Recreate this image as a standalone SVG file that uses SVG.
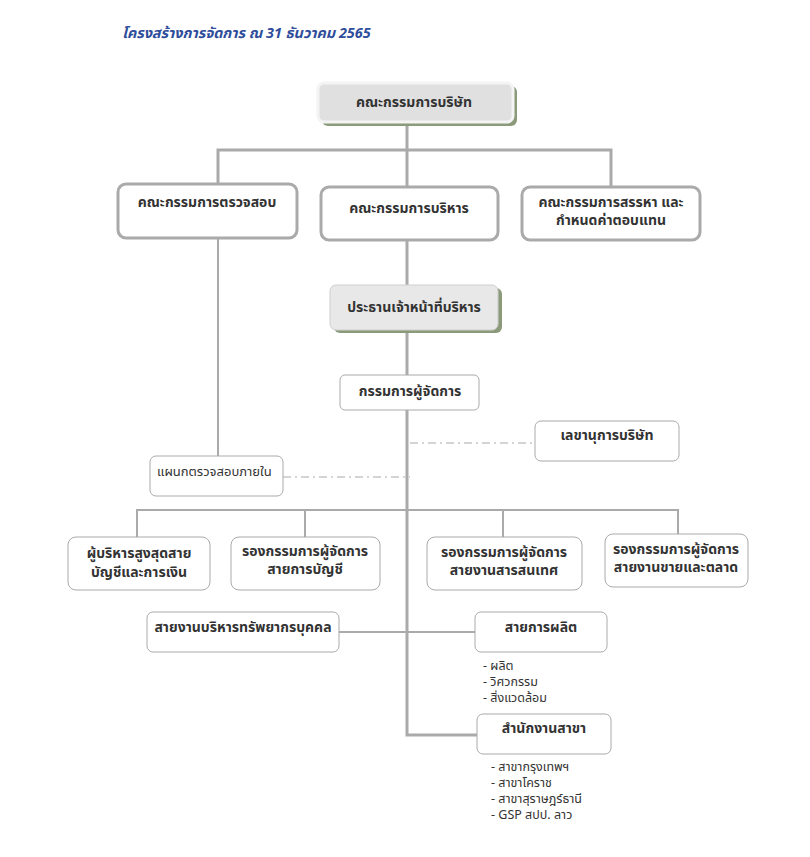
<svg xmlns="http://www.w3.org/2000/svg" width="810" height="857" viewBox="0 0 810 857">
<style>
text{font-family:"Noto Sans","Noto Sans Thai","DejaVu Sans",sans-serif;fill:#333;}
.b{font-weight:bold;font-size:14px;text-anchor:middle;}
.n{font-size:13px;}
.s{font-size:12.5px;}
.thick{fill:#fff;stroke:#aaa;stroke-width:3;}
.thin{fill:#fff;stroke:#aaa;stroke-width:1;}
.gray{fill:#e0e0e0;stroke:#f4f4f4;stroke-width:3;}
.shadow{fill:#8a9a7a;}
.ln{stroke:#aaa;stroke-width:3;fill:none;}
.ln2{stroke:#aaa;stroke-width:2;fill:none;}
.dd{stroke:#aaa;stroke-width:1.2;fill:none;stroke-dasharray:8 4 2 4;}
</style>
<rect width="810" height="857" fill="#fff"/>
<text x="122" y="38" style="font-size:14.4px;font-weight:bold;font-style:italic;fill:#2e4d9b;">โครงสร้างการจัดการ ณ 31 ธันวาคม 2565</text>
<g id="connectors">
<path class="ln" d="M407 122V150M218 185V150H611V186M407 150V186"/>
<path class="ln" d="M407 240V286M407 331V375M407 410V735H477"/>
<path class="ln2" d="M218 238V456"/>
<path class="dd" d="M283 477H410M410 443H535"/>
<path class="ln2" d="M137 537V510H678V534M305 510V537M503 510V537"/>
<path class="ln2" d="M339 632H475"/>
</g>
<g id="board">
<rect class="shadow" x="322" y="86" width="195" height="40" rx="6"/>
<rect class="gray" x="318" y="83" width="195" height="39" rx="6"/>
<text class="b" x="414" y="107">คณะกรรมการบริษัท</text>
</g>
<g id="audit-committee">
<rect class="thick" x="118" y="184" width="179" height="54" rx="8"/>
<text class="b" x="207" y="207">คณะกรรมการตรวจสอบ</text>
</g>
<g id="exec-committee">
<rect class="thick" x="321" y="187" width="177" height="53" rx="8"/>
<text class="b" x="409" y="213">คณะกรรมการบริหาร</text>
</g>
<g id="nomination-committee">
<rect class="thick" x="522" y="187" width="178" height="53" rx="8"/>
<text class="b" x="611" y="207">คณะกรรมการสรรหา และ</text>
<text class="b" x="611" y="225">กำหนดค่าตอบแทน</text>
</g>
<g id="ceo">
<rect class="shadow" x="334" y="288" width="168" height="45" rx="6"/>
<rect class="gray" x="330" y="285" width="168" height="45" rx="6" style="fill:#e8e8e8;stroke:#cfcfcf;stroke-width:1;"/>
<text class="b" x="414" y="312">ประธานเจ้าหน้าที่บริหาร</text>
</g>
<g id="md">
<rect class="thin" x="340" y="375" width="139" height="35" rx="5"/>
<text class="b" x="410" y="396">กรรมการผู้จัดการ</text>
</g>
<g id="secretary">
<rect class="thin" x="535" y="421" width="144" height="40" rx="6"/>
<text class="b" x="607" y="440">เลขานุการบริษัท</text>
</g>
<g id="internal-audit">
<rect class="thin" x="150" y="456" width="133" height="40" rx="6"/>
<text class="n" x="157" y="476">แผนกตรวจสอบภายใน</text>
</g>
<g id="cfo">
<rect class="thin" x="68" y="537" width="142" height="53" rx="8"/>
<text class="b" x="139" y="558">ผู้บริหารสูงสุดสาย</text>
<text class="b" x="139" y="577">บัญชีและการเงิน</text>
</g>
<g id="vp-accounting">
<rect class="thin" x="231" y="537" width="149" height="53" rx="8"/>
<text class="b" x="305" y="556">รองกรรมการผู้จัดการ</text>
<text class="b" x="305" y="574">สายการบัญชี</text>
</g>
<g id="vp-it">
<rect class="thin" x="427" y="537" width="155" height="53" rx="8"/>
<text class="b" x="504" y="557">รองกรรมการผู้จัดการ</text>
<text class="b" x="504" y="575">สายงานสารสนเทศ</text>
</g>
<g id="vp-sales">
<rect class="thin" x="605" y="534" width="143" height="53" rx="8"/>
<text class="b" x="676" y="554">รองกรรมการผู้จัดการ</text>
<text class="b" x="676" y="572">สายงานขายและตลาด</text>
</g>
<g id="hr">
<rect class="thin" x="147" y="612" width="192" height="40" rx="6"/>
<text class="b" x="243" y="632">สายงานบริหารทรัพยากรบุคคล</text>
</g>
<g id="production">
<rect class="thin" x="475" y="612" width="132" height="40" rx="6"/>
<text class="b" x="541" y="632">สายการผลิต</text>
<text class="s" x="483" y="670">- ผลิต</text>
<text class="s" x="483" y="686">- วิศวกรรม</text>
<text class="s" x="483" y="702">- สิ่งแวดล้อม</text>
</g>
<g id="branch">
<rect class="thin" x="477" y="714" width="134" height="40" rx="6"/>
<text class="b" x="544" y="733">สำนักงานสาขา</text>
<text class="s" x="491" y="771">- สาขากรุงเทพฯ</text>
<text class="s" x="491" y="787">- สาขาโคราช</text>
<text class="s" x="491" y="803">- สาขาสุราษฎร์ธานี</text>
<text class="s" x="491" y="819">- GSP สปป. ลาว</text>
</g>
</svg>
